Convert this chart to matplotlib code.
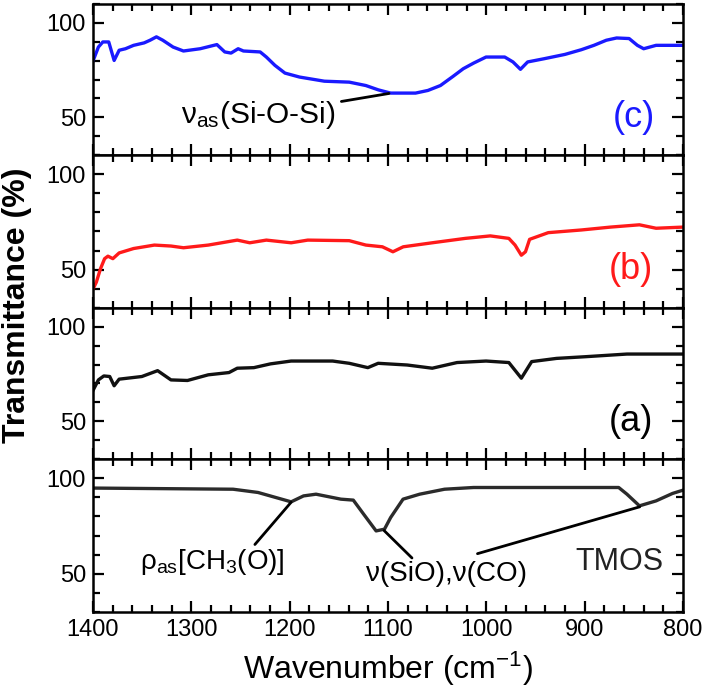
import matplotlib
matplotlib.use("Agg")
import matplotlib.pyplot as plt
from matplotlib.ticker import MultipleLocator, FixedLocator

plt.rcParams['font.family'] = ['Liberation Sans', 'DejaVu Sans']
plt.rcParams['mathtext.fontset'] = 'custom'
plt.rcParams['mathtext.rm'] = 'Liberation Sans'
plt.rcParams['mathtext.it'] = 'Liberation Sans'

# ---- data (wavenumber cm-1, transmittance %) ----
wn_c = [1400, 1394.5, 1390, 1384, 1378.5, 1373.4, 1367, 1358.7, 1348, 1342, 1335.5, 1329,
        1318.6, 1308, 1291, 1274, 1266, 1259.6, 1252.4, 1247, 1230, 1223.7, 1215, 1204.8,
        1190, 1164.7, 1139.4, 1122.5, 1109.8, 1097.3, 1072, 1059.4, 1046.7, 1034, 1023.5,
        1012.9, 1000.3, 981.3, 972.9, 965.3, 958, 941.3, 920, 903.3, 890.6, 878, 867.5,
        854.8, 846.4, 840, 827.4, 800]
t_c = [79.8, 87.2, 89.9, 89.9, 80.1, 85.5, 86.3, 88.1, 89.4, 90.8, 92.6, 90.8,
       87.2, 85.1, 86.3, 88.5, 84.6, 84.0, 86.3, 85.1, 84.6, 81.9, 77.5, 73.4,
       71.3, 69.1, 68.6, 66.8, 64.5, 62.8, 62.8, 64.2, 66.8, 71.6, 75.7,
       78.7, 81.9, 81.9, 79.3, 75.4, 79.3, 81.0, 83.3, 85.8, 88.1, 90.8, 92.0,
       91.7, 88.1, 86.3, 88.1, 88.1]

wn_b = [1400, 1396.6, 1392.4, 1388.2, 1384.8, 1379.8, 1373.4, 1358.7, 1337.6, 1320.7, 1308,
        1282.8, 1253.3, 1240.6, 1223.7, 1198.5, 1181.6, 1139.4, 1122.5, 1105.7, 1095,
        1084.5, 1055, 1021.4, 996, 977.1, 970.8, 964.4, 960.2, 956, 937, 903.3, 873.8,
        844.3, 827.4, 800]
t_b = [39.9, 43.5, 50.5, 55.8, 57.1, 55.8, 58.8, 61.1, 62.9, 62.4, 61.5,
       62.9, 65.5, 64.1, 65.5, 64.1, 65.5, 65.2, 62.9, 62.0, 59.4,
       62.0, 64.1, 66.4, 67.7, 66.4, 62.9, 57.6, 59.4, 65.9, 69.4, 70.8, 72.3,
       73.5, 71.7, 72.3]

wn_a = [1400, 1394.5, 1389, 1383, 1378.5, 1373.4, 1350.3, 1334.3, 1320.7, 1303.9, 1282.8,
        1261.7, 1253.3, 1236.4, 1219.5, 1198.5, 1156.3, 1139.4, 1120.5, 1110, 1080.5,
        1055, 1029.8, 1000.3, 977.1, 964.4, 953.9, 928.6, 899.1, 857, 800]
t_a = [66.3, 71.9, 74.0, 73.7, 68.8, 72.3, 73.7, 76.8, 71.9, 71.6, 74.6,
       75.8, 78.1, 78.4, 80.4, 81.9, 81.9, 80.7, 78.4, 80.7, 79.8,
       78.1, 81.1, 81.9, 81.1, 72.8, 81.6, 83.3, 84.2, 85.6, 85.6]

wn_t = [1400, 1257.5, 1232.2, 1198.5, 1185.9, 1173.2, 1147.9, 1135.3, 1124.7, 1112.1,
        1103.6, 1097.3, 1084.7, 1067.8, 1042.5, 1013, 865.4, 857, 844.3, 827.4, 810.6, 800]
t_t = [94.8, 94.2, 92.5, 87.6, 90.7, 91.6, 89.0, 88.5, 81.1, 72.4,
       73.3, 79.4, 89.0, 91.6, 94.2, 95.1, 95.1, 91.6, 85.5, 88.1, 92.0, 93.7]

panel_labels = ['(c)', '(b)', '(a)', 'TMOS']
colors = ['#1a1aff', '#ff1a1a', '#111111', '#2b2b2b']
series = [(wn_c, t_c), (wn_b, t_b), (wn_a, t_a), (wn_t, t_t)]
ylims = [(30, 110), (30, 110), (30, 110), (30, 110)]
xticks = [1400, 1300, 1200, 1100, 1000, 900, 800]
yticks = [50, 100]

W, H = 708, 700
fig = plt.figure(figsize=(W / 100, H / 100), dpi=100)
left, right = 93, 683
edges = [4, 155, 308, 459, 612]
axes = []
for i in range(4):
    top, bot = edges[i], edges[i + 1]
    ax = fig.add_axes([left / W, 1 - bot / H, (right - left) / W, (bot - top) / H])
    axes.append(ax)
    wn, tr = series[i]
    ax.plot(wn, tr, color=colors[i], lw=2.4, solid_joinstyle='round')
    ax.set_xlim(1400, 800)
    ax.set_ylim(*ylims[i])
    ax.xaxis.set_major_locator(FixedLocator(xticks))
    ax.xaxis.set_minor_locator(MultipleLocator(20))
    ax.yaxis.set_major_locator(FixedLocator(yticks))
    ax.yaxis.set_minor_locator(MultipleLocator(10))
    ax.tick_params(which='both', direction='in', top=True, right=True, width=1.6, labelsize=17)
    ax.tick_params(which='major', length=8, pad=5)
    ax.tick_params(which='minor', length=5)
    for s in ax.spines.values():
        s.set_linewidth(1.8)
    if i < 3:
        ax.tick_params(labelbottom=False)

# panel labels
axes[0].text(850, 50, panel_labels[0], color=colors[0], fontsize=26, ha='center', va='center')
axes[1].text(853, 50, panel_labels[1], color=colors[1], fontsize=26, ha='center', va='center')
axes[2].text(853, 50, panel_labels[2], color='black', fontsize=26, ha='center', va='center')
axes[3].text(865, 56, panel_labels[3], color='#222222', fontsize=22, ha='center', va='center')

# annotations
axes[0].annotate('ν$_{\\mathrm{as}}$(Si-O-Si)', xy=(1099, 62.6), xytext=(1153, 51),
                 fontsize=21.5, ha='right', va='center',
                 arrowprops=dict(arrowstyle='-', color='black', lw=2, shrinkA=2, shrinkB=0))
axes[3].annotate('ρ$_{\\mathrm{as}}$[CH$_{3}$(O)]', xy=(1198.5, 87.4), xytext=(1279, 56),
                 fontsize=20, ha='center', va='center',
                 arrowprops=dict(arrowstyle='-', color='black', lw=2, shrinkA=0, shrinkB=0,
                                 relpos=(0.78, 1.0)))
axes[3].annotate('ν(SiO),ν(CO)', xy=(1104, 72.6), xytext=(1040, 50),
                 fontsize=20, ha='center', va='center',
                 arrowprops=dict(arrowstyle='-', color='black', lw=2, shrinkA=0, shrinkB=0,
                                 relpos=(0.3, 1.0)))
axes[3].annotate('', xy=(844, 85), xytext=(1009, 60.5),
                 arrowprops=dict(arrowstyle='-', color='black', lw=2, shrinkA=0, shrinkB=0))

axes[3].set_xlabel('Wavenumber (cm$^{-1}$)', fontsize=23, labelpad=6)
fig.text(17 / W, 1 - 305 / H, 'Transmittance (%)', rotation=90, fontsize=23,
         fontweight='bold', ha='center', va='center')

fig.savefig('out.png', dpi=100)
